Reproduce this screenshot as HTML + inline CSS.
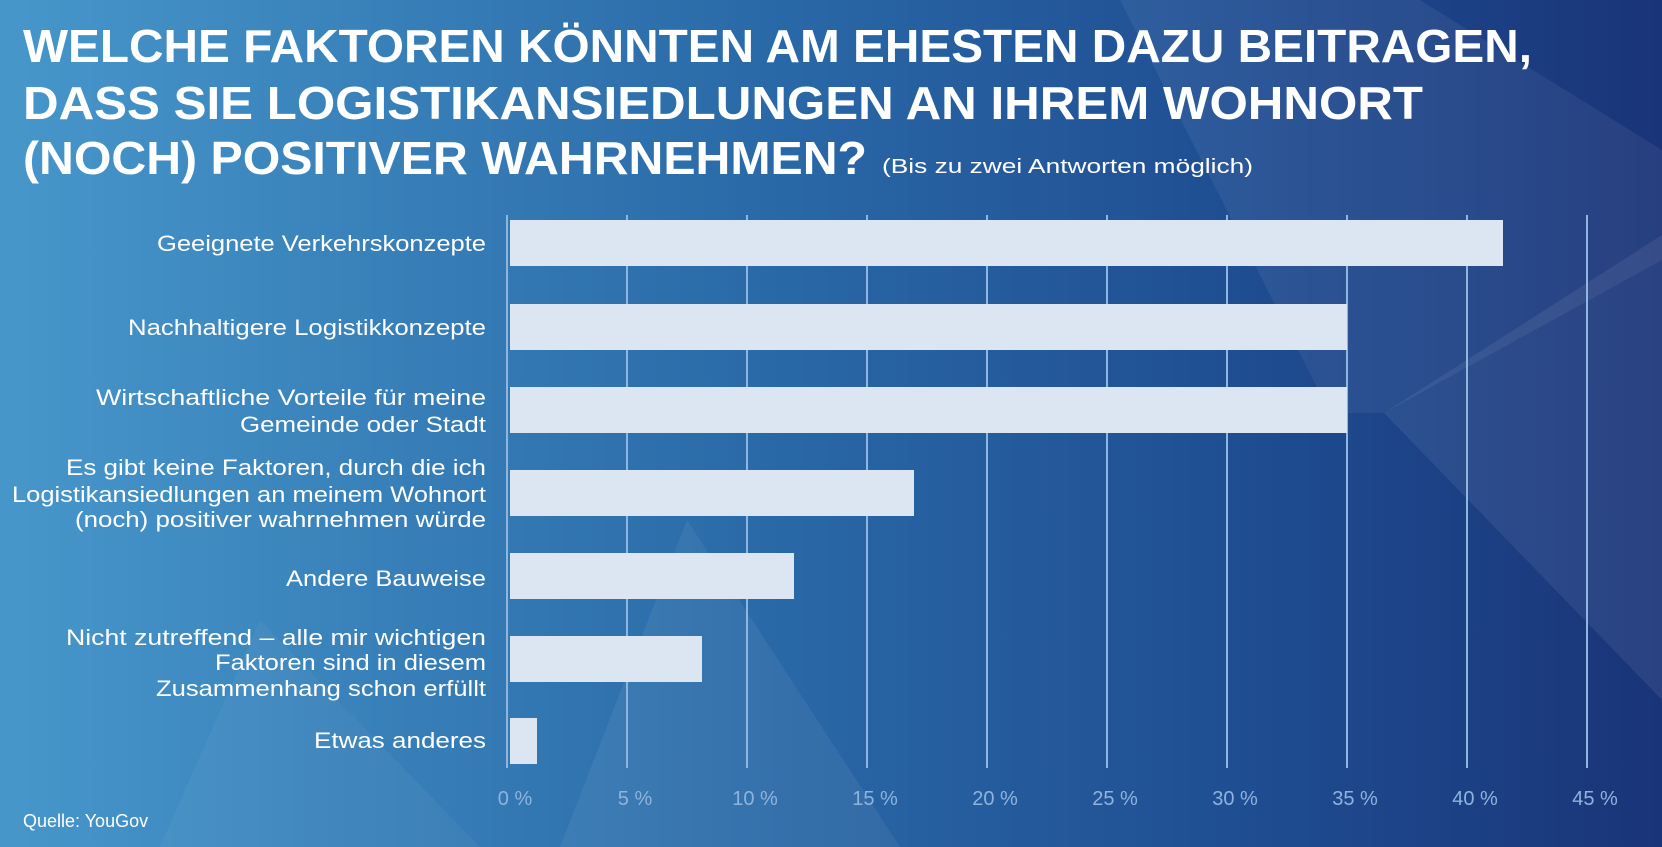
<!DOCTYPE html>
<html><head><meta charset="utf-8"><style>html,body{margin:0;padding:0;width:1662px;height:847px;overflow:hidden}</style></head>
<body>
<svg width="1662" height="847" viewBox="0 0 1662 847" xmlns="http://www.w3.org/2000/svg" font-family="Liberation Sans, sans-serif">
<defs>
<linearGradient id="bg" x1="0" y1="0" x2="1" y2="0">
<stop offset="0" stop-color="#4797cb"/>
<stop offset="0.45" stop-color="#2a6aa8"/>
<stop offset="0.75" stop-color="#1f4d92"/>
<stop offset="1" stop-color="#1a3478"/>
</linearGradient>
</defs>
<rect width="1662" height="847" fill="url(#bg)"/>
<polygon points="687,520 900,847 560,847" fill="#ffffff" opacity="0.06"/>
<polygon points="1120,0 1420,0 1662,150 1662,260 1384,413 1330,413" fill="#ffffff" opacity="0.06"/>
<polygon points="1384,413 1662,235 1662,700" fill="#ffffff" opacity="0.07"/>
<polygon points="160,847 480,847 260,620" fill="#ffffff" opacity="0.04"/>

<g fill="#ffffff" font-weight="bold">
<text x="23" y="62" font-size="46" textLength="1509" lengthAdjust="spacingAndGlyphs">WELCHE FAKTOREN KÖNNTEN AM EHESTEN DAZU BEITRAGEN,</text>
<text x="23" y="119" font-size="46" textLength="1400" lengthAdjust="spacingAndGlyphs">DASS SIE LOGISTIKANSIEDLUNGEN AN IHREM WOHNORT</text>
<text x="23" y="174" font-size="46" textLength="844" lengthAdjust="spacingAndGlyphs">(NOCH) POSITIVER WAHRNEHMEN?</text>
</g>
<text x="882" y="173" font-size="20" fill="#ffffff" textLength="371" lengthAdjust="spacingAndGlyphs">(Bis zu zwei Antworten möglich)</text>

<g stroke="#8fb6e0" stroke-width="2">
<line x1="507" y1="215" x2="507" y2="768"/>
<line x1="627" y1="215" x2="627" y2="768"/>
<line x1="747" y1="215" x2="747" y2="768"/>
<line x1="867" y1="215" x2="867" y2="768"/>
<line x1="987" y1="215" x2="987" y2="768"/>
<line x1="1107" y1="215" x2="1107" y2="768"/>
<line x1="1227" y1="215" x2="1227" y2="768"/>
<line x1="1347" y1="215" x2="1347" y2="768"/>
<line x1="1467" y1="215" x2="1467" y2="768"/>
<line x1="1587" y1="215" x2="1587" y2="768"/>
</g>

<g fill="#dce6f3">
<rect x="510" y="220" width="993" height="46"/>
<rect x="510" y="304" width="837" height="46"/>
<rect x="510" y="387" width="837" height="46"/>
<rect x="510" y="470" width="404" height="46"/>
<rect x="510" y="553" width="284" height="46"/>
<rect x="510" y="636" width="192" height="46"/>
<rect x="510" y="718" width="27" height="46"/>
</g>

<g fill="#ffffff" font-size="22" text-anchor="end">
<text x="486" y="251" textLength="329" lengthAdjust="spacingAndGlyphs">Geeignete Verkehrskonzepte</text>
<text x="486" y="335" textLength="358" lengthAdjust="spacingAndGlyphs">Nachhaltigere Logistikkonzepte</text>
<text x="486" y="405" textLength="390" lengthAdjust="spacingAndGlyphs">Wirtschaftliche Vorteile für meine</text>
<text x="486" y="432" textLength="246" lengthAdjust="spacingAndGlyphs">Gemeinde oder Stadt</text>
<text x="486" y="475" textLength="420" lengthAdjust="spacingAndGlyphs">Es gibt keine Faktoren, durch die ich</text>
<text x="486" y="502" textLength="474" lengthAdjust="spacingAndGlyphs">Logistikansiedlungen an meinem Wohnort</text>
<text x="486" y="527" textLength="411" lengthAdjust="spacingAndGlyphs">(noch) positiver wahrnehmen würde</text>
<text x="486" y="586" textLength="200" lengthAdjust="spacingAndGlyphs">Andere Bauweise</text>
<text x="486" y="645" textLength="420" lengthAdjust="spacingAndGlyphs">Nicht zutreffend – alle mir wichtigen</text>
<text x="486" y="670" textLength="271" lengthAdjust="spacingAndGlyphs">Faktoren sind in diesem</text>
<text x="486" y="696" textLength="330" lengthAdjust="spacingAndGlyphs">Zusammenhang schon erfüllt</text>
<text x="486" y="748" textLength="172" lengthAdjust="spacingAndGlyphs">Etwas anderes</text>
</g>

<g fill="#8fb3dc" font-size="20" text-anchor="middle">
<text x="515" y="805">0 %</text>
<text x="635" y="805">5 %</text>
<text x="755" y="805">10 %</text>
<text x="875" y="805">15 %</text>
<text x="995" y="805">20 %</text>
<text x="1115" y="805">25 %</text>
<text x="1235" y="805">30 %</text>
<text x="1355" y="805">35 %</text>
<text x="1475" y="805">40 %</text>
<text x="1595" y="805">45 %</text>
</g>
<text x="23" y="827" font-size="18" fill="#ffffff">Quelle: YouGov</text>
</svg>
</body></html>
